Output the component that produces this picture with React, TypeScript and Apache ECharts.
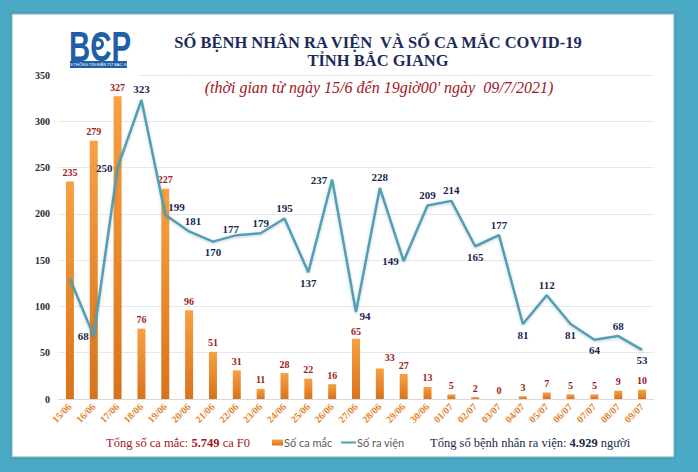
import React, { useEffect, useRef } from "react";
import * as echarts from "echarts";

const categories = [
  "15/06", "16/06", "17/06", "18/06", "19/06", "20/06", "21/06", "22/06", "23/06",
  "24/06", "25/06", "26/06", "27/06", "28/06", "29/06", "30/06", "01/07", "02/07",
  "03/07", "04/07", "05/07", "06/07", "07/07", "08/07", "09/07",
];
const caseCounts = [235, 279, 327, 76, 227, 96, 51, 31, 11, 28, 22, 16, 65, 33, 27, 13, 5, 2, 0, 3, 7, 5, 5, 9, 10];
const dischargeCounts = [130, 68, 250, 323, 199, 181, 170, 177, 179, 195, 137, 237, 94, 228, 149, 209, 214, 165, 177, 81, 112, 81, 64, 68, 53];
const dischargeLabelPos = [
  "none", "left", "left", "top", "right", "top", "bottom", "top", "top", "top", "bottom", "left", "bottom",
  "top", "left", "top", "top", "bottom", "top", "bottom", "top", "bottom", "bottom", "top", "bottom",
];
const seriesNames = ["Số ca mắc", "Số ra viện"];
const titleLines = "SỐ BỆNH NHÂN RA VIỆN  VÀ SỐ CA MẮC COVID-19\nTỈNH BẮC GIANG";
const subtitleText = "(thời gian từ ngày 15/6 đến 19giờ00' ngày  09/7/2021)";
const totalCases = "5.749";
const totalDischarged = "4.929";

const SERIF = "'Liberation Serif', 'DejaVu Serif', serif";

export default function App() {
  const ref = useRef<HTMLDivElement>(null);

  useEffect(() => {
    if (!ref.current) return;
    const chart = echarts.init(ref.current, undefined, { renderer: "svg" });

    const labelOffsets: Record<number, number[]> = {
      4: [-2, -8],
      5: [4, 0],
      7: [-6, 4],
      12: [9, -6],
    };

    const lineData = dischargeCounts.map((v, i) => {
      const pos = dischargeLabelPos[i];
      if (pos === "none") return { value: v, label: { show: false } };
      const label: any = { position: pos };
      if (labelOffsets[i]) label.offset = labelOffsets[i];
      return { value: v, label };
    });

    const barData = caseCounts.map((v, i) => {
      if (i === 13) return { value: v, label: { offset: [10, -2] } };
      if (i === 12) return { value: v, label: { distance: 2 } };
      return v;
    });

    chart.setOption({
      animation: false,
      backgroundColor: "#4aa9c4",
      title: [
        {
          text: titleLines,
          left: 378,
          top: 33,
          padding: 0,
          textAlign: "center",
          textStyle: {
            fontFamily: SERIF,
            fontSize: 16.5,
            lineHeight: 18,
            fontWeight: "bold",
            color: "#1c2b5a",
          },
        },
        {
          text: subtitleText,
          left: 379,
          top: 78,
          padding: 0,
          textAlign: "center",
          textStyle: {
            fontFamily: SERIF,
            fontSize: 16,
            lineHeight: 18,
            fontStyle: "italic",
            fontWeight: "normal",
            color: "#a3141e",
          },
        },
      ],
      legend: [
        {
          data: [{ name: seriesNames[0], icon: "rect" }],
          left: 272,
          top: 437,
          padding: 0,
          itemWidth: 11,
          itemHeight: 6,
          itemGap: 2,
          textStyle: { fontFamily: "Lato, 'Open Sans', sans-serif", fontSize: 11, color: "#595959", padding: [0, 0, 0, -4] },
        },
        {
          data: [{ name: seriesNames[1], icon: "rect" }],
          left: 341,
          top: 437,
          padding: 0,
          itemWidth: 15,
          itemHeight: 2,
          textStyle: { fontFamily: "Lato, 'Open Sans', sans-serif", fontSize: 11, color: "#595959", padding: [0, 0, 0, -4] },
        },
      ],
      grid: { left: 58, right: 44, top: 75, bottom: 73 },
      xAxis: {
        type: "category",
        data: categories,
        boundaryGap: true,
        axisLine: { lineStyle: { color: "#d9d9d9" } },
        axisTick: { show: false },
        axisLabel: {
          rotate: 45,
          margin: 6,
          interval: 0,
          color: "#e5832a",
          fontFamily: SERIF,
          fontWeight: "bold",
          fontSize: 10,
        },
      },
      yAxis: {
        type: "value",
        min: 0,
        max: 350,
        interval: 50,
        axisLine: { show: false },
        axisTick: { show: false },
        splitLine: { lineStyle: { color: "#e4e9f0" } },
        axisLabel: {
          margin: 8,
          color: "#262a3a",
          fontFamily: SERIF,
          fontWeight: "bold",
          fontSize: 10,
        },
      },
      graphic: [
        {
          type: "rect",
          z: -100,
          shape: { x: 12, y: 14, width: 662, height: 443 },
          style: { fill: "#ffffff", stroke: "#7fb3c4", lineWidth: 1, shadowBlur: 3, shadowColor: "rgba(0,0,0,0.25)" },
        },
        {
          type: "rect",
          z: 1,
          shape: { x: 57, y: 71, width: 81, height: 7 },
          style: { fill: "#ffffff" },
        },
        {
          type: "text",
          z: 5,
          x: 69,
          y: 26,
          scaleX: 0.7,
          style: {
            text: "BCP",
            fontFamily: "'Liberation Sans', Arial, sans-serif",
            fontWeight: "bold",
            fontSize: 42,
            fill: "#1f5fa6",
          },
        },
        {
          type: "ring",
          z: 6,
          shape: { cx: 98, cy: 44, r: 6, r0: 3 },
          style: { fill: "#1f5fa6" },
        },
        {
          type: "rect",
          z: 5,
          shape: { x: 70, y: 61, width: 57, height: 7 },
          style: { fill: "#1f5fa6" },
        },
        {
          type: "text",
          z: 6,
          x: 98.5,
          y: 64.5,
          style: {
            text: "CỔNG THÔNG TIN ĐIỆN TỬ BẮC GIANG",
            fontFamily: "'Liberation Sans', Arial, sans-serif",
            fontSize: 4,
            fill: "#ffffff",
            align: "center",
            verticalAlign: "middle",
          },
        },
        {
          type: "text",
          z: 5,
          x: 106,
          y: 443,
          style: {
            text: "Tổng số ca mắc: {b|" + totalCases + "} ca F0",
            fontFamily: SERIF,
            fontSize: 12.5,
            fill: "#a3141e",
            verticalAlign: "middle",
            rich: {
              b: { fontFamily: SERIF, fontSize: 12.5, fontWeight: "bold", fill: "#a3141e" },
            },
          },
        },
        {
          type: "text",
          z: 5,
          x: 430,
          y: 443,
          style: {
            text: "Tổng số bệnh nhân ra viện: {b|" + totalDischarged + "} người",
            fontFamily: SERIF,
            fontSize: 12.5,
            fill: "#1c2a4a",
            verticalAlign: "middle",
            rich: {
              b: { fontFamily: SERIF, fontSize: 12.5, fontWeight: "bold", fill: "#1c2a4a" },
            },
          },
        },
      ],
      series: [
        {
          name: seriesNames[0],
          type: "bar",
          data: barData,
          barWidth: 8,
          itemStyle: {
            color: new echarts.graphic.LinearGradient(0, 0, 0, 1, [
              { offset: 0, color: "#f8a043" },
              { offset: 1, color: "#d8731d" },
            ]),
          },
          label: {
            show: true,
            position: "top",
            distance: 4,
            color: "#9e1b22",
            fontFamily: SERIF,
            fontWeight: "bold",
            fontSize: 10,
          },
          z: 2,
        },
        {
          name: seriesNames[1],
          type: "line",
          data: lineData,
          symbol: "circle",
          symbolSize: 0,
          showSymbol: true,
          lineStyle: {
            color: "#4f9fb6",
            width: 2.5,
            shadowBlur: 3,
            shadowColor: "rgba(0,0,0,0.2)",
            shadowOffsetY: 1,
          },
          itemStyle: { color: "#4f9fb6" },
          label: {
            show: true,
            color: "#1b2650",
            fontFamily: SERIF,
            fontWeight: "bold",
            fontSize: 11,
            distance: 5,
          },
          z: 3,
        },
      ],
    });

    return () => chart.dispose();
  }, []);

  return (
    <div
      ref={ref}
      style={{ position: "fixed", left: 0, top: 0, width: 698, height: 472 }}
    />
  );
}
